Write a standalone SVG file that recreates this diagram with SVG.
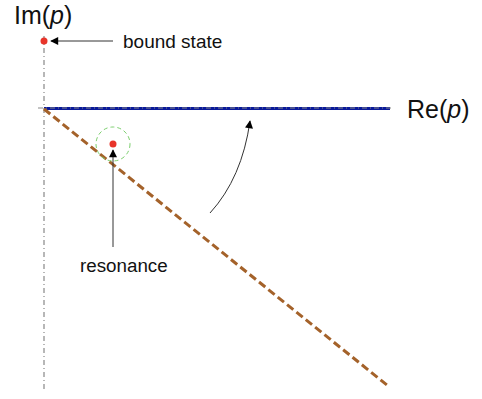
<svg xmlns="http://www.w3.org/2000/svg" width="482" height="399" viewBox="0 0 482 399">
<style>
.lbl{font-family:"Liberation Sans",Arial,sans-serif;fill:#111}
.axis{stroke:#888;stroke-width:1.2;stroke-dasharray:5,3,1,3;fill:none}
.arr{stroke:#333;stroke-width:1;fill:none;marker-end:url(#ah)}
</style>
<defs>
<marker id="ah" viewBox="0 0 10 10" refX="9" refY="5" markerWidth="11" markerHeight="8" markerUnits="userSpaceOnUse" orient="auto"><path d="M0,0 L10,5 L0,10 z" fill="#000"/></marker>
</defs>
<g id="real-axis-contour"><line x1="44" y1="108.5" x2="390" y2="108.5" stroke="#0a1a9a" stroke-width="3"/></g>
<g id="axes">
<line class="axis" x1="44" y1="36" x2="44" y2="392"/>
<line class="axis" x1="38" y1="108" x2="394" y2="108"/>
</g>
<g id="rotated-contour"><line x1="44" y1="109" x2="387" y2="385" stroke="#a4622a" stroke-width="3" stroke-dasharray="8,4"/></g>
<g id="bound-state"><circle cx="44" cy="41" r="3.5" fill="#e8342a"/></g>
<g id="resonance-pole">
<circle cx="113" cy="144" r="17" fill="none" stroke="#7ccf6e" stroke-width="1" stroke-dasharray="4,3"/>
<circle cx="113" cy="144" r="3.5" fill="#e8342a"/>
</g>
<g id="labels">
<text class="lbl" x="14" y="24" font-size="25">Im(<tspan font-style="italic">p</tspan>)</text>
<text class="lbl" x="407" y="118" font-size="25">Re(<tspan font-style="italic">p</tspan>)</text>
<text class="lbl" x="123" y="48" font-size="19">bound state</text>
<text class="lbl" x="80" y="272" font-size="18.8">resonance</text>
</g>
<g id="connectors">
<line class="arr" x1="113" y1="41" x2="51" y2="41"/>
<line class="arr" x1="113" y1="247" x2="113" y2="150" stroke="#666"/>
<path class="arr" d="M210,213 Q242,178 250,121"/>
</g>
</svg>
